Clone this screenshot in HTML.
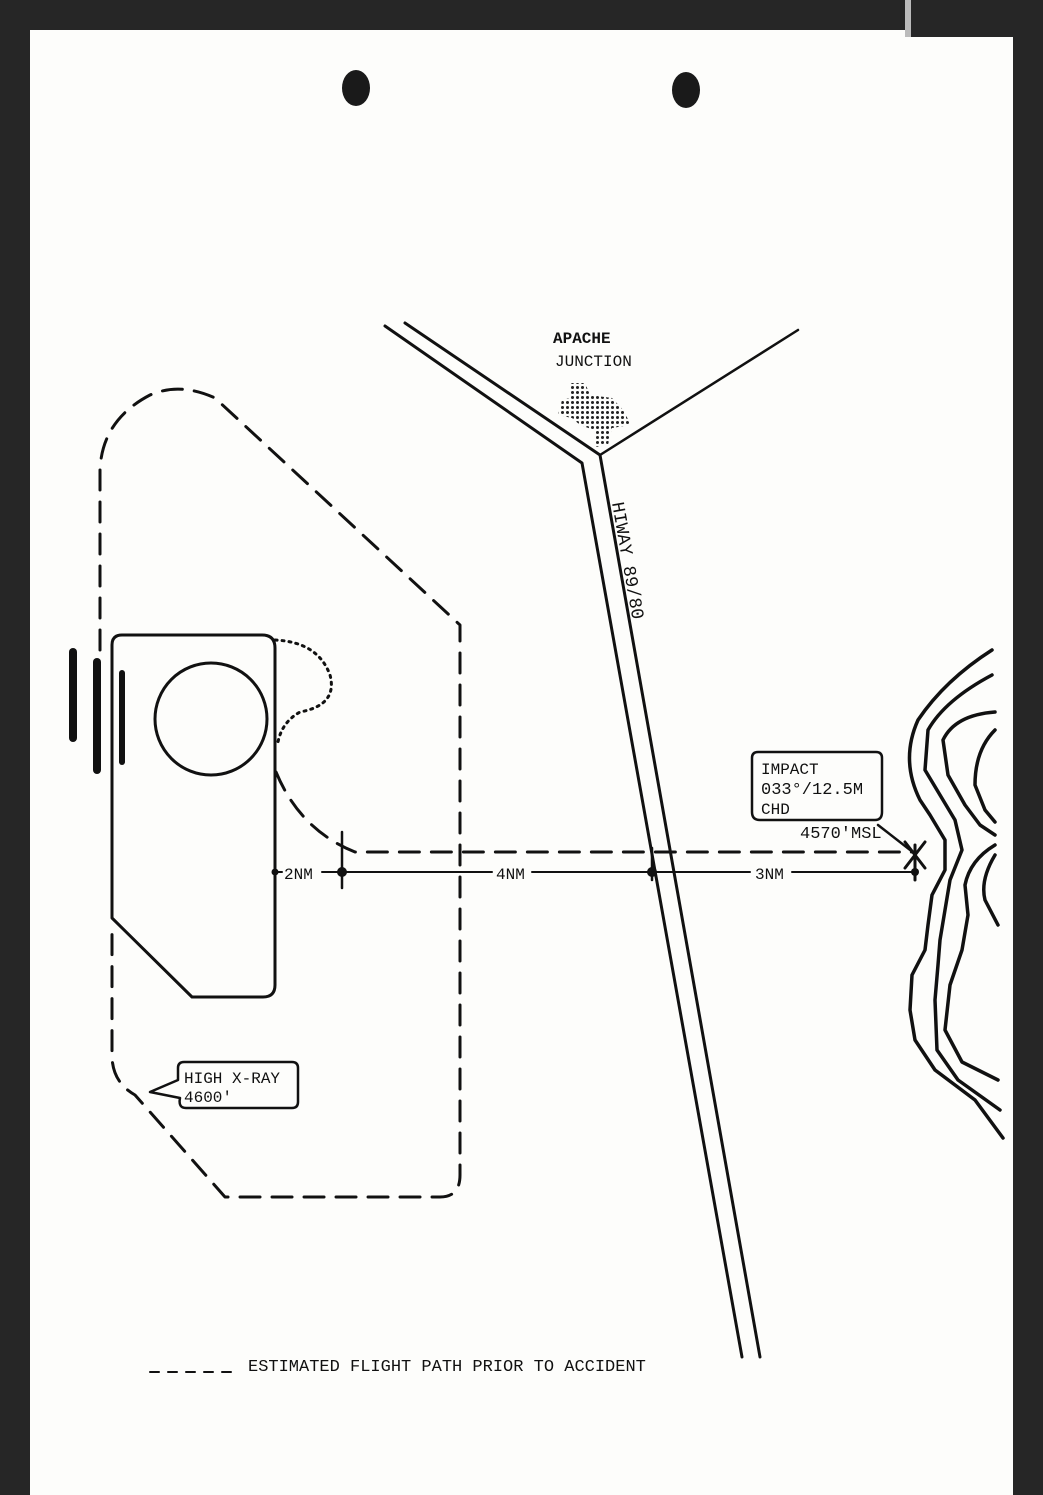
<!DOCTYPE html>
<html><head><meta charset="utf-8"><style>
html,body{margin:0;padding:0;background:#222;}
svg{display:block;}
text{font-family:"Liberation Mono",monospace;fill:#111;}
</style></head><body>
<svg width="1043" height="1495" viewBox="0 0 1043 1495" xmlns="http://www.w3.org/2000/svg">
<rect x="0" y="0" width="1043" height="1495" fill="#262626"/>
<rect x="905" y="0" width="6" height="38" fill="#bbb"/>
<path d="M30 30 L905 30 L905 37 L1013 37 L1013 1495 L30 1495 Z" fill="#fdfdfb"/>
<ellipse cx="356" cy="88" rx="14" ry="18" fill="#1a1a1a"/>
<ellipse cx="686" cy="90" rx="14" ry="18" fill="#1a1a1a"/>

<g fill="none" stroke="#111" stroke-width="3" stroke-linecap="round" stroke-linejoin="round">
<path d="M385 326 L582 463 L742 1357"/>
<path d="M405 323 L600 455 L760 1357"/>
<path d="M600 455 L798 330" stroke-width="2.5"/>
<path d="M112 918 L112 645 Q112 635 122 635 L262 635 Q275 635 275 648 L275 985 Q275 997 263 997 L192 997 Z"/>
<circle cx="211" cy="719" r="56"/>
<line x1="73" y1="652" x2="73" y2="738" stroke-width="8"/>
<line x1="97" y1="662" x2="97" y2="770" stroke-width="8"/>
<line x1="122" y1="673" x2="122" y2="762" stroke-width="6"/>
<path d="M275 640 Q318 642 330 675 Q338 705 300 712 Q282 722 278 742" stroke-dasharray="2 5"/>
<path d="M100 650 L100 470 Q102 420 150 395 Q180 382 215 398 L460 625 L460 1175 Q460 1197 440 1197 L225 1197 L135 1095 Q112 1082 112 1055 L112 925" stroke-dasharray="20 12" stroke-width="3"/>
<path d="M276 772 Q300 830 355 852 L915 852" stroke-dasharray="20 12"/>
<line x1="275" y1="872" x2="282" y2="872" stroke-width="2"/>
<line x1="322" y1="872" x2="492" y2="872" stroke-width="2"/>
<line x1="532" y1="872" x2="750" y2="872" stroke-width="2"/>
<line x1="792" y1="872" x2="915" y2="872" stroke-width="2"/>
<line x1="342" y1="832" x2="342" y2="888" stroke-width="2.5"/>
<line x1="652" y1="848" x2="652" y2="880" stroke-width="2.5"/>
<line x1="905" y1="842" x2="925" y2="868"/>
<line x1="925" y1="842" x2="905" y2="868"/>
<line x1="915" y1="845" x2="915" y2="880"/>
<path d="M758 752 L876 752 Q882 752 882 758 L882 812 Q882 820 875 820 L760 820 Q752 820 752 812 L752 758 Q752 752 758 752 Z" stroke-width="2.5"/>
<line x1="878" y1="825" x2="914" y2="853" stroke-width="2.5"/>
<path d="M184 1062 L292 1062 Q298 1062 298 1068 L298 1102 Q298 1108 292 1108 L186 1108 Q178 1108 180 1098 L150 1092 L178 1080 L178 1068 Q178 1062 184 1062 Z" stroke-width="2.5"/>
<path d="M992 650 Q945 680 918 720 Q900 760 920 800 L930 815 L945 840 L945 870 L932 895 L928 925 L925 950 L912 975 L910 1010 L915 1040 L935 1070 L975 1100 L1003 1138" stroke-width="3.5"/>
<path d="M992 675 Q945 700 928 730 L925 770 L940 795 L955 820 L962 850 L950 880 L945 910 L940 940 L938 965 L935 1000 L937 1050 L958 1080 L1000 1110" stroke-width="3.5"/>
<path d="M995 712 Q955 715 943 740 L948 775 L965 805 L980 825 L995 835" stroke-width="3.5"/>
<path d="M995 845 Q970 860 965 885 L968 915 L962 950 L950 985 L945 1030 L962 1062 L998 1080" stroke-width="3.5"/>
<path d="M995 730 Q975 750 975 785 L985 810 L995 822" stroke-width="3.5"/>
<path d="M995 855 Q980 880 985 900 L998 925" stroke-width="3.5"/>
<path d="M150 1372 L238 1372" stroke-dasharray="9 9" stroke-width="2"/>
</g>
<g fill="#111">
<circle cx="275" cy="872" r="3.5"/><circle cx="342" cy="872" r="5"/><circle cx="652" cy="872" r="5"/><circle cx="915" cy="872" r="4"/>
</g>
<defs><pattern id="dots" width="5" height="5" patternUnits="userSpaceOnUse"><circle cx="2.5" cy="2.5" r="1.5" fill="#222"/></pattern></defs>
<path d="M570 383 L585 383 L590 395 L612 398 L625 412 L630 425 L612 428 L608 445 L596 447 L594 430 L580 425 L572 418 L558 415 L562 400 L570 398 Z" fill="url(#dots)"/>
<text x="553" y="343" font-size="16" font-weight="bold">APACHE</text>
<text x="555" y="366" font-size="16">JUNCTION</text>
<text x="0" y="0" font-size="18" transform="translate(612,503) rotate(80)">HIWAY 89/80</text>
<text x="284" y="879" font-size="16">2NM</text>
<text x="496" y="879" font-size="16">4NM</text>
<text x="755" y="879" font-size="16">3NM</text>
<text x="761" y="774" font-size="16">IMPACT</text>
<text x="761" y="794" font-size="17">033°/12.5M</text>
<text x="761" y="814" font-size="16">CHD</text>
<text x="800" y="838" font-size="17">4570'MSL</text>
<text x="184" y="1083" font-size="16">HIGH X-RAY</text>
<text x="184" y="1102" font-size="16">4600'</text>
<text x="248" y="1371" font-size="17">ESTIMATED FLIGHT PATH PRIOR TO ACCIDENT</text>
</svg>
</body></html>
